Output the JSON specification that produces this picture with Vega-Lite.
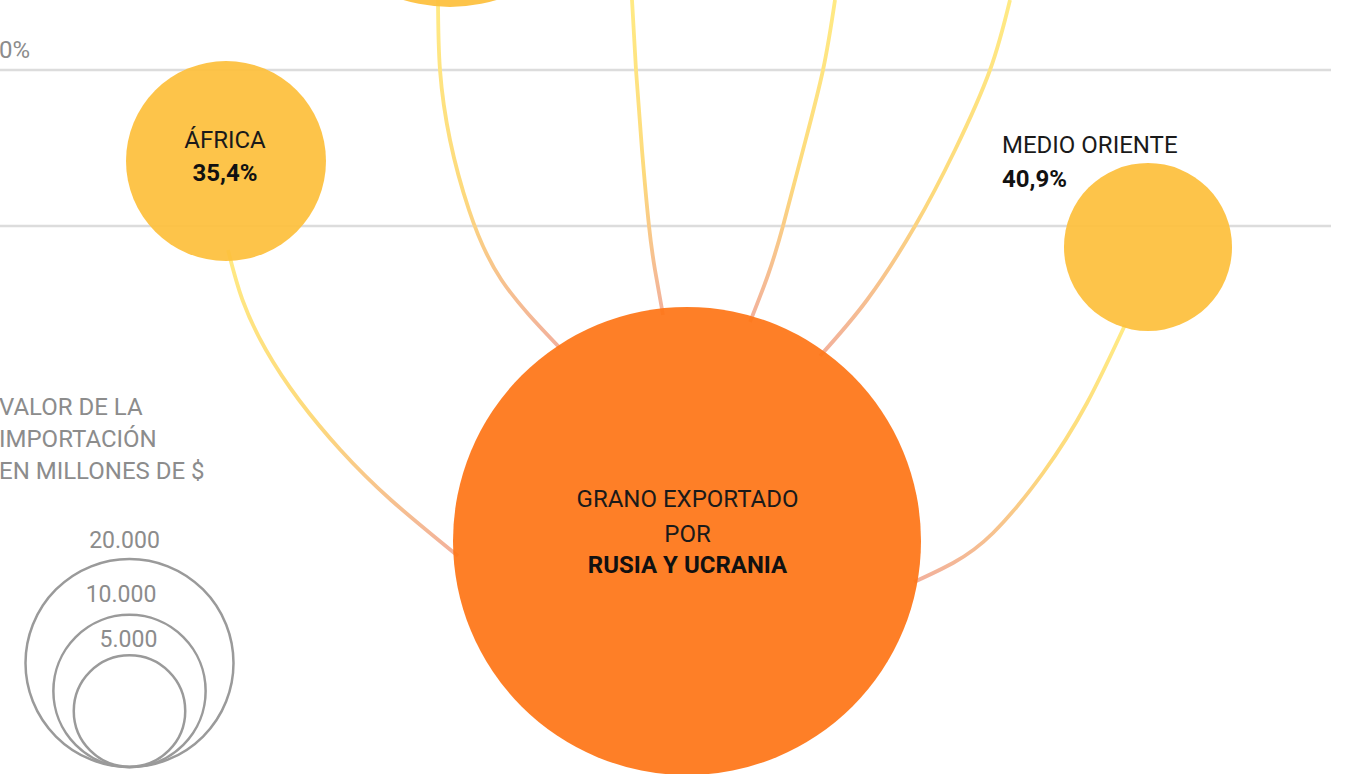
{
  "$schema": "https://vega.github.io/schema/vega-lite/v6.json",
  "width": 1349,
  "height": 774,
  "autosize": {"type": "none"},
  "padding": 0,
  "background": "#ffffff",
  "config": {"view": {"stroke": null}, "font": "Roboto"},
  "datasets": {
    "grid": [
      {"nivel": "superior", "y": 70, "x0": 0, "x1": 1331},
      {"nivel": "inferior", "y": 226, "x0": 0, "x1": 1331}
    ],
    "links": [
      {"id": "Africa", "o": 1, "x": 228, "y": 250},
      {"id": "Africa", "o": 2, "x": 242.5, "y": 300},
      {"id": "Africa", "o": 3, "x": 266, "y": 350},
      {"id": "Africa", "o": 4, "x": 299, "y": 400},
      {"id": "Africa", "o": 5, "x": 340.5, "y": 450},
      {"id": "Africa", "o": 6, "x": 391, "y": 500},
      {"id": "Africa", "o": 7, "x": 458, "y": 556},
      {"id": "Arriba1", "o": 1, "x": 438, "y": 0},
      {"id": "Arriba1", "o": 2, "x": 440, "y": 70},
      {"id": "Arriba1", "o": 3, "x": 450, "y": 140},
      {"id": "Arriba1", "o": 4, "x": 469, "y": 210},
      {"id": "Arriba1", "o": 5, "x": 501.5, "y": 280},
      {"id": "Arriba1", "o": 6, "x": 560, "y": 348},
      {"id": "Arriba2", "o": 1, "x": 632, "y": 0},
      {"id": "Arriba2", "o": 2, "x": 636, "y": 70},
      {"id": "Arriba2", "o": 3, "x": 642, "y": 150},
      {"id": "Arriba2", "o": 4, "x": 649, "y": 226},
      {"id": "Arriba2", "o": 5, "x": 655, "y": 270},
      {"id": "Arriba2", "o": 6, "x": 663, "y": 315},
      {"id": "Arriba3", "o": 1, "x": 835, "y": 0},
      {"id": "Arriba3", "o": 2, "x": 823, "y": 70},
      {"id": "Arriba3", "o": 3, "x": 803, "y": 150},
      {"id": "Arriba3", "o": 4, "x": 783, "y": 226},
      {"id": "Arriba3", "o": 5, "x": 768, "y": 275},
      {"id": "Arriba3", "o": 6, "x": 750, "y": 322},
      {"id": "Arriba4", "o": 1, "x": 1010, "y": 0},
      {"id": "Arriba4", "o": 2, "x": 990, "y": 70},
      {"id": "Arriba4", "o": 3, "x": 955, "y": 150},
      {"id": "Arriba4", "o": 4, "x": 915, "y": 226},
      {"id": "Arriba4", "o": 5, "x": 867, "y": 300},
      {"id": "Arriba4", "o": 6, "x": 820, "y": 356},
      {"id": "MedioOriente", "o": 1, "x": 1125, "y": 325},
      {"id": "MedioOriente", "o": 2, "x": 1087, "y": 403},
      {"id": "MedioOriente", "o": 3, "x": 1043, "y": 473},
      {"id": "MedioOriente", "o": 4, "x": 993, "y": 533},
      {"id": "MedioOriente", "o": 5, "x": 953, "y": 563},
      {"id": "MedioOriente", "o": 6, "x": 914, "y": 582}
    ],
    "nodes": [
      {"region": "Rusia y Ucrania", "tipo": "origen", "x": 687, "y": 541, "valor": 101250},
      {"region": "Región superior", "tipo": "destino", "x": 450, "y": -153, "valor": 47300},
      {"region": "África", "tipo": "destino", "x": 226, "y": 161, "valor": 18490},
      {"region": "Medio Oriente", "tipo": "destino", "x": 1148, "y": 247, "valor": 13050}
    ],
    "legendCircles": [
      {"valor": 20000, "x": 129.5, "y": 663},
      {"valor": 10000, "x": 129.5, "y": 691},
      {"valor": 5000, "x": 129.5, "y": 711}
    ],
    "legendNumbers": [
      {"texto": "20.000", "x": 124.5, "y": 548},
      {"texto": "10.000", "x": 121, "y": 602},
      {"texto": "5.000", "x": 128.5, "y": 647}
    ],
    "grayLeft": [
      {"texto": "VALOR DE LA", "x": -1, "y": 415},
      {"texto": "IMPORTACIÓN", "x": -1, "y": 447},
      {"texto": "EN MILLONES DE $", "x": -1, "y": 479},
      {"texto": "0%", "x": -1, "y": 58}
    ],
    "centerNormal": [
      {"texto": "ÁFRICA", "x": 225, "y": 148},
      {"texto": "GRANO EXPORTADO", "x": 687.5, "y": 507},
      {"texto": "POR", "x": 687.5, "y": 542}
    ],
    "centerBold": [
      {"texto": "35,4%", "x": 225, "y": 181},
      {"texto": "RUSIA Y UCRANIA", "x": 687.5, "y": 573}
    ],
    "leftNormal": [
      {"texto": "MEDIO ORIENTE", "x": 1002, "y": 153}
    ],
    "leftBold": [
      {"texto": "40,9%", "x": 1002, "y": 187}
    ]
  },
  "layer": [
    {
      "data": {"name": "grid"},
      "mark": {"type": "rule", "color": "#dcdcdc", "strokeWidth": 2.5},
      "encoding": {
        "x": {"field": "x0", "type": "quantitative", "scale": {"domain": [0, 1349], "nice": false, "zero": false}, "axis": null},
        "x2": {"field": "x1"},
        "y": {"field": "y", "type": "quantitative", "scale": {"domain": [0, 774], "nice": false, "zero": false, "reverse": true}, "axis": null}
      }
    },
    {
      "data": {"name": "links"},
      "mark": {
        "type": "line",
        "interpolate": "natural",
        "strokeWidth": 3.8,
        "strokeCap": "butt",
        "stroke": {
          "gradient": "linear",
          "x1": 0, "y1": 0, "x2": 0, "y2": 1,
          "stops": [
            {"offset": 0, "color": "#FFEA84"},
            {"offset": 0.55, "color": "#FDDA7C"},
            {"offset": 1, "color": "#F2B09C"}
          ]
        }
      },
      "encoding": {
        "x": {"field": "x", "type": "quantitative", "scale": {"domain": [0, 1349], "nice": false, "zero": false}, "axis": null},
        "y": {"field": "y", "type": "quantitative", "scale": {"domain": [0, 774], "nice": false, "zero": false, "reverse": true}, "axis": null},
        "detail": {"field": "id"},
        "order": {"field": "o", "type": "quantitative"}
      }
    },
    {
      "data": {"name": "nodes"},
      "mark": {"type": "point", "shape": "circle", "filled": true, "opacity": 0.93},
      "encoding": {
        "x": {"field": "x", "type": "quantitative", "scale": {"domain": [0, 1349], "nice": false, "zero": false}, "axis": null},
        "y": {"field": "y", "type": "quantitative", "scale": {"domain": [0, 774], "nice": false, "zero": false, "reverse": true}, "axis": null},
        "size": {"field": "valor", "type": "quantitative", "scale": {"type": "linear", "domain": [0, 20000], "range": [0, 43264], "zero": true}, "legend": null},
        "color": {"field": "tipo", "type": "nominal", "scale": {"domain": ["origen", "destino"], "range": ["#FE7517", "#FDC03C"]}, "legend": null}
      }
    },
    {
      "data": {"name": "legendCircles"},
      "mark": {"type": "point", "shape": "circle", "filled": false, "color": "#9a9a9a", "strokeWidth": 2.5, "opacity": 1},
      "encoding": {
        "x": {"field": "x", "type": "quantitative", "scale": {"domain": [0, 1349], "nice": false, "zero": false}, "axis": null},
        "y": {"field": "y", "type": "quantitative", "scale": {"domain": [0, 774], "nice": false, "zero": false, "reverse": true}, "axis": null},
        "size": {"field": "valor", "type": "quantitative", "scale": {"type": "pow", "exponent": 0.9, "domain": [0, 20000], "range": [0, 43264]}, "legend": null}
      }
    },
    {
      "data": {"name": "legendNumbers"},
      "mark": {"type": "text", "align": "center", "baseline": "alphabetic", "font": "Roboto", "fontSize": 23, "color": "#8c8c8c"},
      "encoding": {
        "x": {"field": "x", "type": "quantitative", "scale": {"domain": [0, 1349], "nice": false, "zero": false}, "axis": null},
        "y": {"field": "y", "type": "quantitative", "scale": {"domain": [0, 774], "nice": false, "zero": false, "reverse": true}, "axis": null},
        "text": {"field": "texto"}
      }
    },
    {
      "data": {"name": "grayLeft"},
      "mark": {"type": "text", "align": "left", "baseline": "alphabetic", "font": "Roboto", "fontSize": 24, "color": "#8c8c8c"},
      "encoding": {
        "x": {"field": "x", "type": "quantitative", "scale": {"domain": [0, 1349], "nice": false, "zero": false}, "axis": null},
        "y": {"field": "y", "type": "quantitative", "scale": {"domain": [0, 774], "nice": false, "zero": false, "reverse": true}, "axis": null},
        "text": {"field": "texto"}
      }
    },
    {
      "data": {"name": "centerNormal"},
      "mark": {"type": "text", "align": "center", "baseline": "alphabetic", "font": "Roboto", "fontSize": 24, "color": "#1a1a1a"},
      "encoding": {
        "x": {"field": "x", "type": "quantitative", "scale": {"domain": [0, 1349], "nice": false, "zero": false}, "axis": null},
        "y": {"field": "y", "type": "quantitative", "scale": {"domain": [0, 774], "nice": false, "zero": false, "reverse": true}, "axis": null},
        "text": {"field": "texto"}
      }
    },
    {
      "data": {"name": "centerBold"},
      "mark": {"type": "text", "align": "center", "baseline": "alphabetic", "font": "Roboto", "fontSize": 24, "fontWeight": "bold", "color": "#111111"},
      "encoding": {
        "x": {"field": "x", "type": "quantitative", "scale": {"domain": [0, 1349], "nice": false, "zero": false}, "axis": null},
        "y": {"field": "y", "type": "quantitative", "scale": {"domain": [0, 774], "nice": false, "zero": false, "reverse": true}, "axis": null},
        "text": {"field": "texto"}
      }
    },
    {
      "data": {"name": "leftNormal"},
      "mark": {"type": "text", "align": "left", "baseline": "alphabetic", "font": "Roboto", "fontSize": 24, "color": "#1a1a1a"},
      "encoding": {
        "x": {"field": "x", "type": "quantitative", "scale": {"domain": [0, 1349], "nice": false, "zero": false}, "axis": null},
        "y": {"field": "y", "type": "quantitative", "scale": {"domain": [0, 774], "nice": false, "zero": false, "reverse": true}, "axis": null},
        "text": {"field": "texto"}
      }
    },
    {
      "data": {"name": "leftBold"},
      "mark": {"type": "text", "align": "left", "baseline": "alphabetic", "font": "Roboto", "fontSize": 24, "fontWeight": "bold", "color": "#111111"},
      "encoding": {
        "x": {"field": "x", "type": "quantitative", "scale": {"domain": [0, 1349], "nice": false, "zero": false}, "axis": null},
        "y": {"field": "y", "type": "quantitative", "scale": {"domain": [0, 774], "nice": false, "zero": false, "reverse": true}, "axis": null},
        "text": {"field": "texto"}
      }
    }
  ],
  "resolve": {"scale": {"size": "independent"}}
}
